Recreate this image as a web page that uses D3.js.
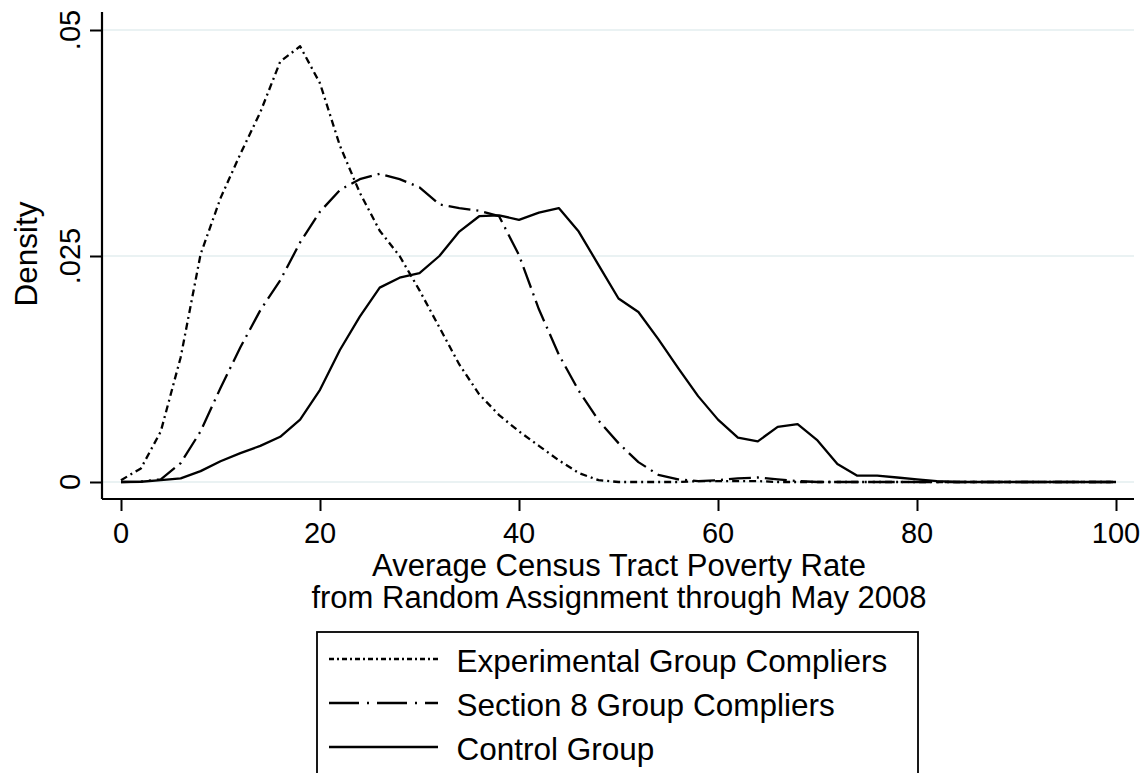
<!DOCTYPE html>
<html>
<head>
<meta charset="utf-8">
<script src="https://cdn.jsdelivr.net/npm/d3@7"></script>
<style>
  html, body { margin: 0; padding: 0; background: #ffffff; }
  svg { display: block; }
  text { font-family: "Liberation Sans", Arial, Helvetica, sans-serif; fill: #000; }
</style>
</head>
<body>
<svg id="chart" width="1147" height="773"></svg>
<script>
// ---------------- data ----------------
const evalPoints = [0,2,4,6,8,10,12,14,16,18,20,22,24,26,28,30,32,34,36,38,40,42,44,46,48,50,
  52,54,56,58,60,62,64,66,68,70,72,74,76,78,80,82,84,86,88,90,92,94,96,98,100];

const experimental = [0.0002,0.0015,0.0056,0.0138,0.0252,0.0314,0.0363,0.0409,0.0465,0.0482,
  0.0441,0.0372,0.0320,0.0278,0.0250,0.0212,0.0171,0.0130,0.0097,0.0074,0.0056,0.0040,0.0024,
  0.0010,0.0002,0.0000,0.0000,0.0000,0.0000,0.0001,0.0001,0.0001,0.0001,0.0000,0.0000,0.0000,
  0.0000,0.0000,0.0000,0.0000,0.0000,0.0000,0.0000,0.0000,0.0000,0.0000,0.0000,0.0000,0.0000,
  0.0000,0.0000];

const section8 = [0.0000,0.00005,0.0003,0.0021,0.0056,0.0104,0.0149,0.0190,0.0223,0.0265,
  0.0299,0.0323,0.0335,0.0341,0.0335,0.0326,0.0307,0.0303,0.0300,0.0294,0.0251,0.0191,0.0141,
  0.0101,0.0068,0.0043,0.0022,0.0008,0.0003,0.0001,0.0002,0.0004,0.0005,0.0003,0.0001,0.0000,
  0.0000,0.0000,0.0000,0.0000,0.0000,0.0000,0.0000,0.0000,0.0000,0.0000,0.0000,0.0000,0.0000,
  0.0000,0.0000];

const control = [0.0000,0.00003,0.0002,0.0004,0.0012,0.0023,0.0032,0.0040,0.0050,0.0069,
  0.0102,0.0146,0.0183,0.0215,0.0226,0.0231,0.0250,0.0277,0.0294,0.0295,0.0290,0.0298,0.0303,
  0.0277,0.0240,0.0203,0.0188,0.0158,0.0126,0.0095,0.0069,0.0049,0.0045,0.0061,0.0064,0.0046,
  0.0020,0.0007,0.0007,0.0005,0.0003,0.0001,0.0000,0.0000,0.0000,0.0000,0.0000,0.0000,0.0000,
  0.0000,0.0000];

const seriesNames = ["Experimental Group Compliers", "Section 8 Group Compliers", "Control Group"];
const xTicks = [0, 20, 40, 60, 80, 100];
const yTicks = [0, 0.025, 0.05];
const yTickLabels = ["0", ".025", ".05"];
const xTitleLines = ["Average Census Tract Poverty Rate", "from Random Assignment through May 2008"];
const yTitle = "Density";

// ---------------- layout ----------------
const svg = d3.select("#chart");
const FS_TICK = 29, FS_TITLE = 31.5, FS_XTITLE = 31;
const x = d3.scaleLinear().domain([0, 100]).range([121, 1116]);
const y = d3.scaleLinear().domain([0, 0.05]).range([482, 30]);
const axisLeftX = 102, axisBottomY = 499, axisTopY = 12, axisRightX = 1134;

// gridlines
svg.append("g").selectAll("line").data(yTicks).join("line")
  .attr("x1", axisLeftX).attr("x2", axisRightX)
  .attr("y1", d => y(d)).attr("y2", d => y(d))
  .attr("stroke", "#eaf2f3").attr("stroke-width", 2);

// curves
const styles = [
  { data: experimental, dash: "7,4,2,4", legDash: "5,3,2,3" },
  { data: section8, dash: "22,6,2,6", legDash: "30,8,2,8" },
  { data: control, dash: null, legDash: null }
];
const line = d3.line().x(d => x(d[0])).y(d => y(d[1]));
styles.forEach(s => {
  const pts = evalPoints.map((v, i) => [v, s.data[i]]);
  svg.append("path").datum(pts)
    .attr("d", line)
    .attr("fill", "none").attr("stroke", "#000").attr("stroke-width", 2.3)
    .attr("stroke-linejoin", "round")
    .attr("stroke-dasharray", s.dash);
});

// y axis
const yAxis = d3.axisLeft(y).tickValues(yTicks).tickSize(12).tickFormat("");
const gy = svg.append("g").attr("transform", `translate(${axisLeftX},0)`).call(yAxis);
gy.select(".domain").remove();
gy.selectAll(".tick line").attr("stroke", "#000").attr("stroke-width", 2);
svg.append("line").attr("x1", axisLeftX).attr("x2", axisLeftX)
  .attr("y1", axisTopY).attr("y2", axisBottomY).attr("stroke", "#000").attr("stroke-width", 2.2);
svg.append("g").selectAll("text").data(yTicks).join("text")
  .attr("transform", d => `translate(80,${y(d)}) rotate(-90)`)
  .attr("text-anchor", "middle").style("font-size", FS_TICK + "px")
  .text((d, i) => yTickLabels[i]);

// x axis
const xAxis = d3.axisBottom(x).tickValues(xTicks).tickSize(12).tickFormat("");
const gx = svg.append("g").attr("transform", `translate(0,${axisBottomY})`).call(xAxis);
gx.select(".domain").remove();
gx.selectAll(".tick line").attr("stroke", "#000").attr("stroke-width", 2);
svg.append("line").attr("x1", axisLeftX).attr("x2", axisRightX)
  .attr("y1", axisBottomY).attr("y2", axisBottomY).attr("stroke", "#000").attr("stroke-width", 2.2);
svg.append("g").selectAll("text").data(xTicks).join("text")
  .attr("transform", d => `translate(${x(d)},543)`)
  .attr("text-anchor", "middle").style("font-size", FS_TICK + "px")
  .text(d => d);

// axis titles
svg.append("g").selectAll("text").data(xTitleLines).join("text")
  .attr("transform", (d, i) => `translate(619,${575.5 + i * 32.5})`)
  .attr("text-anchor", "middle").style("font-size", FS_XTITLE + "px")
  .text(d => d);
svg.append("text")
  .attr("transform", `translate(37,254) rotate(-90)`)
  .attr("text-anchor", "middle").style("font-size", FS_TITLE + "px")
  .text(yTitle);

// legend
svg.append("rect").attr("x", 317).attr("y", 632).attr("width", 601).attr("height", 200)
  .attr("fill", "#fff").attr("stroke", "#000").attr("stroke-width", 1.8);
const legRowY = [659, 703, 747];
styles.forEach((s, i) => {
  svg.append("line").attr("x1", 329).attr("x2", 438)
    .attr("y1", legRowY[i]).attr("y2", legRowY[i])
    .attr("stroke", "#000").attr("stroke-width", 2.3)
    .attr("stroke-dasharray", s.legDash);
  svg.append("text")
    .attr("transform", `translate(456.5,${legRowY[i] + 13})`)
    .style("font-size", FS_TITLE + "px")
    .text(seriesNames[i]);
});
</script>
</body>
</html>
